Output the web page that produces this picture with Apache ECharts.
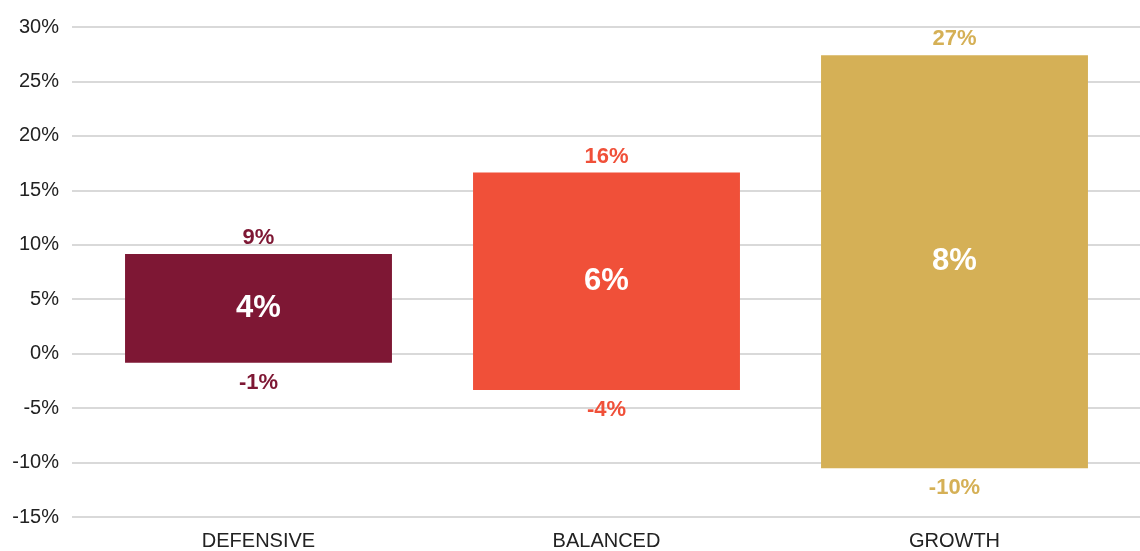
<!DOCTYPE html>
<html lang="en">
<head>
    <meta charset="UTF-8">
    <script src="https://cdn.jsdelivr.net/npm/echarts@6/dist/echarts.min.js"></script>
    <title>range</title>
    <style>
        html, body { margin: 0; padding: 0; background: #fff; }
        #chart { width: 1140px; height: 551px; }
    </style>
</head>
<body>
    <div id="chart"></div>
    <script>
        // data
        let categories = ['DEFENSIVE', 'BALANCED', 'GROWTH'];
        let lowValues = [-0.9, -3.4, -10.6];
        let highValues = [9.1, 16.6, 27.4];
        let lowLabels = ['-1%', '-4%', '-10%'];
        let highLabels = ['9%', '16%', '27%'];
        let midLabels = ['4%', '6%', '8%'];
        let colors = ['#7e1734', '#f05039', '#d5b056'];

        let font = '"Liberation Sans", Arial, sans-serif';

        function renderItem(params, api) {
            let i = params.dataIndex;
            let top = api.coord([api.value(0), api.value(2)]);
            let bot = api.coord([api.value(0), api.value(1)]);
            let w = api.size([1, 0])[0] * 0.767;
            let cx = top[0];
            return {
                type: 'group',
                children: [
                    {
                        type: 'rect',
                        shape: { x: cx - w / 2, y: top[1], width: w, height: bot[1] - top[1] },
                        style: { fill: colors[i] }
                    },
                    {
                        type: 'text',
                        style: {
                            x: cx, y: top[1] - 16, text: highLabels[i], fill: colors[i],
                            font: 'bold 22px ' + font, align: 'center', verticalAlign: 'middle'
                        }
                    },
                    {
                        type: 'text',
                        style: {
                            x: cx, y: (top[1] + bot[1]) / 2, text: midLabels[i], fill: '#fff',
                            font: 'bold 31px ' + font, align: 'center', verticalAlign: 'middle'
                        }
                    },
                    {
                        type: 'text',
                        style: {
                            x: cx, y: bot[1] + 20, text: lowLabels[i], fill: colors[i],
                            font: 'bold 22px ' + font, align: 'center', verticalAlign: 'middle'
                        }
                    }
                ]
            };
        }

        let data = categories.map(function (c, i) {
            return [i, lowValues[i], highValues[i]];
        });

        let option = {
            animation: false,
            backgroundColor: '#fff',
            grid: [
                { left: 72, right: 0, top: 27, bottom: 34 },
                { left: 84.5, right: 11.5, top: 27, bottom: 34 }
            ],
            xAxis: [
                { type: 'category', data: categories, gridIndex: 0, show: false },
                {
                    type: 'category', data: categories, gridIndex: 1,
                    axisLine: { show: false },
                    axisTick: { show: false },
                    axisLabel: { color: '#222', fontSize: 20, fontFamily: font, margin: 15 }
                }
            ],
            yAxis: [
                {
                    type: 'value', gridIndex: 0, min: -15, max: 30, interval: 5,
                    axisLine: { show: false },
                    axisTick: { show: false },
                    axisLabel: { color: '#222', fontSize: 20, fontFamily: font, margin: 13, formatter: '{value}%' },
                    splitLine: { lineStyle: { color: '#d9d9d9', width: 2 } }
                },
                {
                    type: 'value', gridIndex: 1, min: -15, max: 30, interval: 5,
                    show: false,
                    splitLine: { show: false }
                }
            ],
            series: [
                {
                    type: 'custom',
                    xAxisIndex: 1,
                    yAxisIndex: 1,
                    renderItem: renderItem,
                    encode: { x: 0, y: [1, 2] },
                    data: data
                }
            ]
        };

        let myChart = echarts.init(document.getElementById('chart'));
        myChart.setOption(option);
    </script>
</body>
</html>
